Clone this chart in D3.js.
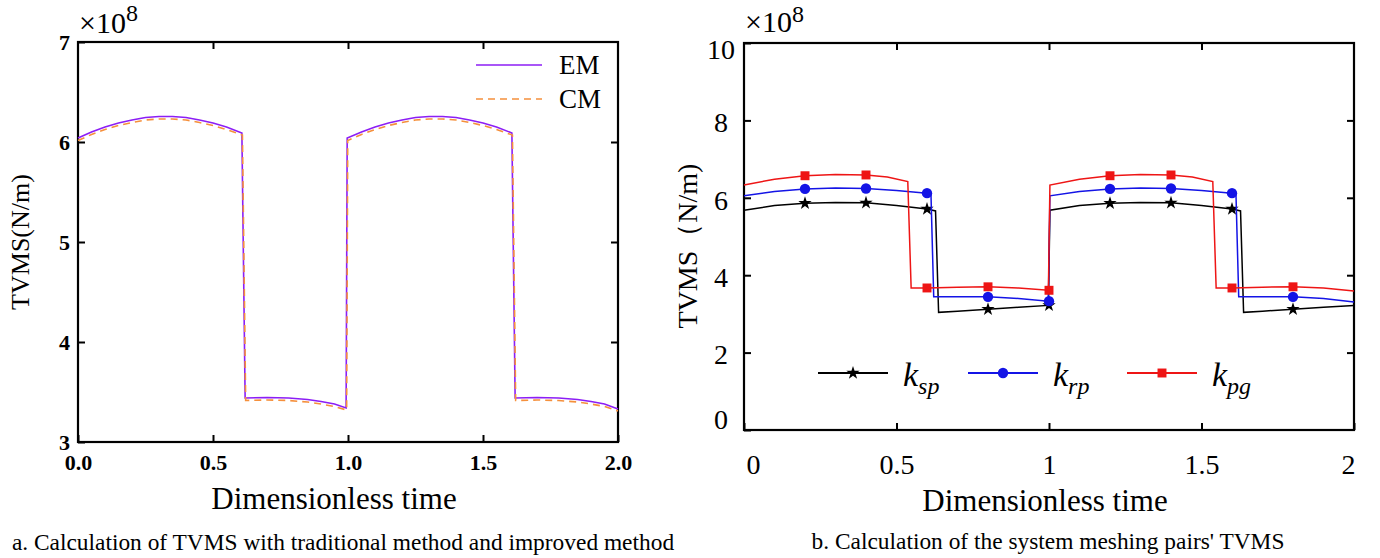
<!DOCTYPE html>
<html>
<head>
<meta charset="utf-8">
<script src="https://cdn.jsdelivr.net/npm/d3@7"></script>
<style>
  body { margin: 0; background: #fff; }
  text { font-family: "Liberation Serif", "Times New Roman", serif; }
</style>
</head>
<body>
<div id="chart"></div>
<script>
// ---- data ----
const timeTicks = [0, 0.5, 1, 1.5, 2];
const yTicksA = [3, 4, 5, 6, 7];
const yTicksB = [0, 2, 4, 6, 8, 10];

// panel a: improved method (EM) and traditional method (CM), units of 1e8 N/m
const emSeries = [
  [0, 6.04], [0.05, 6.10], [0.1, 6.15], [0.15, 6.19], [0.2, 6.22], [0.25, 6.245], [0.3, 6.255],
  [0.35, 6.255], [0.4, 6.245], [0.45, 6.22], [0.5, 6.19], [0.55, 6.15], [0.607, 6.09],
  [0.619, 3.44], [0.7, 3.445], [0.78, 3.44], [0.85, 3.425], [0.9, 3.405], [0.95, 3.38], [0.993, 3.34],
  [0.997, 6.04], [1.05, 6.10], [1.1, 6.15], [1.15, 6.19], [1.2, 6.22], [1.25, 6.245], [1.3, 6.255],
  [1.35, 6.255], [1.4, 6.245], [1.45, 6.22], [1.5, 6.19], [1.55, 6.15], [1.607, 6.09],
  [1.619, 3.44], [1.7, 3.445], [1.78, 3.44], [1.85, 3.425], [1.9, 3.405], [1.95, 3.38], [2.0, 3.33]
];
const cmSeries = [
  [0, 6.015], [0.05, 6.075], [0.1, 6.125], [0.15, 6.165], [0.2, 6.195], [0.25, 6.22], [0.3, 6.23],
  [0.35, 6.23], [0.4, 6.22], [0.45, 6.195], [0.5, 6.165], [0.55, 6.125], [0.609, 6.07],
  [0.621, 3.415], [0.7, 3.42], [0.78, 3.415], [0.85, 3.40], [0.9, 3.38], [0.95, 3.355], [0.995, 3.32],
  [0.999, 6.015], [1.05, 6.075], [1.1, 6.125], [1.15, 6.165], [1.2, 6.195], [1.25, 6.22], [1.3, 6.23],
  [1.35, 6.23], [1.4, 6.22], [1.45, 6.195], [1.5, 6.165], [1.55, 6.125], [1.609, 6.07],
  [1.621, 3.415], [1.7, 3.42], [1.78, 3.415], [1.85, 3.40], [1.9, 3.38], [1.95, 3.355], [2.0, 3.31]
];

// panel b: meshing pairs
const kspSeries = [
  [0, 5.68], [0.1, 5.80], [0.2, 5.86], [0.3, 5.88], [0.4, 5.87], [0.5, 5.80], [0.6, 5.71], [0.628, 5.66],
  [0.638, 3.04], [0.7, 3.07], [0.8, 3.12], [0.9, 3.17], [0.998, 3.22],
  [1.003, 5.68], [1.1, 5.80], [1.2, 5.86], [1.3, 5.88], [1.4, 5.87], [1.5, 5.80], [1.6, 5.71], [1.628, 5.66],
  [1.638, 3.04], [1.7, 3.07], [1.8, 3.12], [1.9, 3.17], [2.0, 3.22]
];
const krpSeries = [
  [0, 6.05], [0.1, 6.16], [0.2, 6.23], [0.3, 6.25], [0.4, 6.24], [0.5, 6.19], [0.6, 6.12], [0.613, 6.10],
  [0.622, 3.44], [0.7, 3.44], [0.8, 3.44], [0.9, 3.40], [0.998, 3.33],
  [1.003, 6.05], [1.1, 6.16], [1.2, 6.23], [1.3, 6.25], [1.4, 6.24], [1.5, 6.19], [1.6, 6.12], [1.613, 6.10],
  [1.622, 3.44], [1.7, 3.44], [1.8, 3.44], [1.9, 3.40], [2.0, 3.31]
];
const kpgSeries = [
  [0, 6.33], [0.1, 6.48], [0.2, 6.57], [0.3, 6.60], [0.4, 6.59], [0.47, 6.54], [0.537, 6.42],
  [0.548, 3.67], [0.6, 3.67], [0.7, 3.69], [0.8, 3.70], [0.9, 3.67], [0.998, 3.61],
  [1.003, 6.33], [1.1, 6.48], [1.2, 6.57], [1.3, 6.60], [1.4, 6.59], [1.47, 6.54], [1.537, 6.42],
  [1.548, 3.67], [1.6, 3.67], [1.7, 3.69], [1.8, 3.70], [1.9, 3.67], [2.0, 3.59]
];
const kspMarks = [[0.2, 5.86], [0.4, 5.87], [0.6, 5.71], [0.8, 3.12], [1.0, 3.22], [1.2, 5.86], [1.4, 5.87], [1.6, 5.71], [1.8, 3.12]];
const krpMarks = [[0.2, 6.23], [0.4, 6.24], [0.6, 6.12], [0.8, 3.44], [1.0, 3.33], [1.2, 6.23], [1.4, 6.24], [1.6, 6.12], [1.8, 3.44]];
const kpgMarks = [[0.2, 6.57], [0.4, 6.59], [0.6, 3.67], [0.8, 3.70], [1.0, 3.61], [1.2, 6.57], [1.4, 6.59], [1.6, 3.67], [1.8, 3.70]];

const W = 1380, H = 558;
const svg = d3.select("#chart").append("svg")
  .attr("width", W)
  .attr("height", H);
svg.append("rect").attr("width", W).attr("height", H).attr("fill", "#fff");

// draws a framed box with inward ticks on all four sides
function frame(g, x, y, xTicks, yTicks) {
  const [x0, x1] = x.range(), [y0, y1] = y.range();
  g.append("g").attr("transform", `translate(0,${y1})`)
    .call(d3.axisTop(x).tickValues(xTicks.slice(1, -1)).tickSize(-7).tickFormat(""));
  g.append("g").attr("transform", `translate(${x1},0)`)
    .call(d3.axisRight(y).tickValues(yTicks.slice(1, -1)).tickSize(-7).tickFormat(""));
  g.selectAll(".domain").remove();
  g.selectAll("line").attr("stroke", "#000").attr("stroke-width", 2);
  g.append("rect")
    .attr("x", x0).attr("y", y1)
    .attr("width", x1 - x0).attr("height", y0 - y1)
    .attr("fill", "none").attr("stroke", "#000").attr("stroke-width", 2.2);
}

// the "x10^8" multiplier above each y axis
function times10(g, x, y, size, supSize, rise) {
  const t = g.append("text").attr("x", x).attr("y", y).attr("font-size", size);
  t.append("tspan").attr("font-size", size).text("\u00d7");
  t.append("tspan").attr("font-size", size).text("10");
  t.append("tspan").attr("dy", -rise).attr("font-size", supSize).text("8");
}

// ---------- panel a ----------
const xA = d3.scaleLinear().domain([0, 2]).range([78, 618]);
const yA = d3.scaleLinear().domain([3, 7]).range([442, 42]);
const gA = svg.append("g");

const axA = gA.append("g");
axA.append("g").attr("transform", "translate(0,442)")
  .call(d3.axisBottom(xA).tickValues(timeTicks).tickSizeInner(-7).tickSizeOuter(0).tickPadding(12).tickFormat(d3.format(".1f")));
axA.append("g").attr("transform", "translate(78,0)")
  .call(d3.axisLeft(yA).tickValues(yTicksA).tickSizeInner(-7).tickSizeOuter(0).tickPadding(8).tickFormat(d3.format("d")));
axA.selectAll("text").style("font-size", "22px").style("font-weight", "bold").attr("fill", "#000");
axA.selectAll("line").attr("stroke", "#000").attr("stroke-width", 2);
axA.selectAll(".domain").remove();
frame(gA.append("g"), xA, yA, timeTicks, yTicksA);

const lineA = d3.line().x(d => xA(d[0])).y(d => yA(d[1]));
gA.append("path").datum(emSeries)
  .attr("fill", "none").attr("stroke", "#8c1ef5").attr("stroke-width", 1.6).attr("d", lineA);
gA.append("path").datum(cmSeries)
  .attr("fill", "none").attr("stroke", "#f5903c").attr("stroke-width", 1.6)
  .attr("stroke-dasharray", "7,5").attr("d", lineA);

// legend a
const legA = [{name: "EM", color: "#8c1ef5", dash: null, y: 65}, {name: "CM", color: "#f5903c", dash: "7,5", y: 99}];
legA.forEach(l => {
  gA.append("line").attr("x1", 476).attr("x2", 542).attr("y1", l.y).attr("y2", l.y)
    .attr("stroke", l.color).attr("stroke-width", 1.6).attr("stroke-dasharray", l.dash);
  gA.append("text").attr("x", 559).attr("y", l.y + 9).style("font-size", "27px").text(l.name);
});

times10(gA, 79, 33, 30, 24, 12);
gA.append("text")
  .attr("transform", "translate(29,242) rotate(-90)")
  .attr("text-anchor", "middle").style("font-size", "26px").text("TVMS(N/m)");
gA.append("text").attr("x", 334).attr("y", 509)
  .attr("text-anchor", "middle").style("font-size", "31px").text("Dimensionless time");
gA.append("text").attr("x", 343).attr("y", 550)
  .attr("text-anchor", "middle").style("font-size", "23.4px")
  .text("a. Calculation of TVMS with traditional method and improved method");

// ---------- panel b ----------
const xB = d3.scaleLinear().domain([0, 2]).range([744, 1354]);
const yB = d3.scaleLinear().domain([0, 10]).range([430, 43]);
const gB = svg.append("g");

const axB = gB.append("g");
axB.append("g").attr("transform", "translate(0,430)")
  .call(d3.axisBottom(xB).tickValues(timeTicks).tickSizeInner(-7).tickSizeOuter(0).tickPadding(24).tickFormat(d3.format("")))
  .selectAll("text")
  .attr("dx", d => d === 0 ? 9 : d === 2 ? -6 : 0);
axB.append("g").attr("transform", "translate(744,0)")
  .call(d3.axisLeft(yB).tickValues(yTicksB).tickSizeInner(-7).tickSizeOuter(0).tickPadding(0).tickFormat(d3.format("d")))
  .selectAll("text")
  .attr("text-anchor", "middle").attr("x", -23)
  .attr("dy", d => d === 0 ? "-0.05em" : d === 10 ? "0.55em" : "0.4em");
axB.selectAll("text").style("font-size", "28px").attr("fill", "#000");
axB.selectAll("line").attr("stroke", "#000").attr("stroke-width", 2);
axB.selectAll(".domain").remove();
frame(gB.append("g"), xB, yB, timeTicks, yTicksB);

const lineB = d3.line().x(d => xB(d[0])).y(d => yB(d[1]));
const seriesB = [
  {name: "sp", data: kspSeries, marks: kspMarks, color: "#000000", symbol: d3.symbolStar, size: 55, lx: 818},
  {name: "rp", data: krpSeries, marks: krpMarks, color: "#1414e6", symbol: d3.symbolCircle, size: 85, lx: 968},
  {name: "pg", data: kpgSeries, marks: kpgMarks, color: "#ee1515", symbol: d3.symbolSquare, size: 80, lx: 1127}
];
seriesB.forEach(s => {
  gB.append("path").datum(s.data)
    .attr("fill", "none").attr("stroke", s.color).attr("stroke-width", 1.5).attr("d", lineB);
  gB.selectAll(null).data(s.marks).join("path")
    .attr("transform", d => `translate(${xB(d[0])},${yB(d[1])})`)
    .attr("d", d3.symbol(s.symbol, s.size))
    .attr("fill", s.color);
  // legend entry
  gB.append("line").attr("x1", s.lx).attr("x2", s.lx + 70).attr("y1", 373).attr("y2", 373)
    .attr("stroke", s.color).attr("stroke-width", 1.8);
  gB.append("path").attr("transform", `translate(${s.lx + 35},373)`)
    .attr("d", d3.symbol(s.symbol, s.size)).attr("fill", s.color);
  const t = gB.append("text").attr("x", s.lx + 85).attr("y", 386)
    .style("font-style", "italic").style("font-size", "34px");
  t.append("tspan").text("k");
  t.append("tspan").attr("dy", 8).style("font-size", "24px").text(s.name);
});

times10(gB, 745, 32, 30, 24, 10);
gB.append("text")
  .attr("transform", "translate(697,246) rotate(-90)")
  .attr("text-anchor", "middle").style("font-size", "28px").text("TVMS\uff08N/m)");
gB.append("text").attr("x", 1045).attr("y", 511)
  .attr("text-anchor", "middle").style("font-size", "31px").text("Dimensionless time");
gB.append("text").attr("x", 1048).attr("y", 549)
  .attr("text-anchor", "middle").style("font-size", "23.4px")
  .text("b. Calculation of the system meshing pairs' TVMS");
</script>
</body>
</html>
